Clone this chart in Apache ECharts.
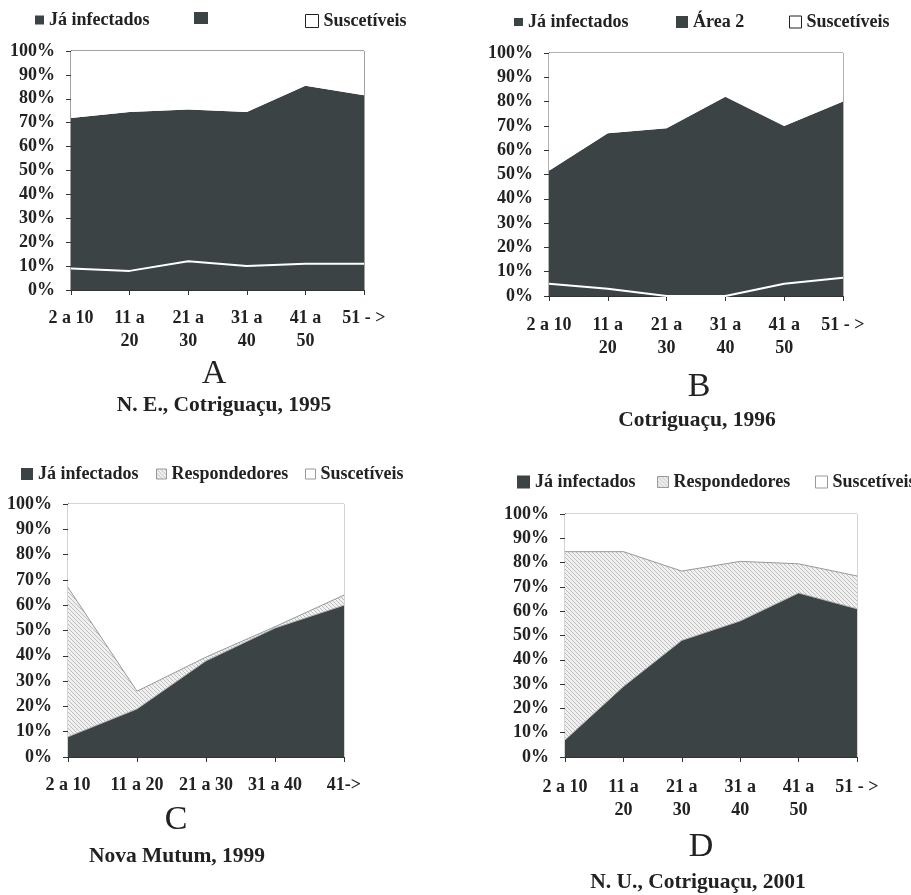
<!DOCTYPE html>
<html><head><meta charset="utf-8">
<script src="https://cdn.jsdelivr.net/npm/echarts@6/dist/echarts.min.js"></script>
<style>html,body{margin:0;padding:0;background:#fff}#c{width:911px;height:895px}</style>
</head><body><div id="c"></div>
<script>
// ---- data ----
const catsA = ['2 a 10', '11 a\n20', '21 a\n30', '31 a\n40', '41 a\n50', '51 - >'];
const catsB = ['2 a 10', '11 a\n20', '21 a\n30', '31 a\n40', '41 a\n50', '51 - >'];
const catsC = ['2 a 10', '11 a 20', '21 a 30', '31 a 40', '41->'];
const catsD = ['2 a 10', '11 a\n20', '21 a\n30', '31 a\n40', '41 a\n50', '51 - >'];

const aInfectados  = [9, 8, 12, 10, 11, 11];
const aArea2       = [63, 66.5, 63.5, 64.5, 74.5, 70.5];
const aSuscetiveis = [28, 25.5, 24.5, 25.5, 14.5, 18.5];

const bInfectados  = [5, 3, 0, 0, 5, 7.5];
const bArea2       = [46.5, 64, 69, 82, 65, 72.5];
const bSuscetiveis = [48.5, 33, 31, 18, 30, 20];

const cInfectados    = [8, 19, 38, 51, 60];
const cRespondedores = [59, 7, 1.5, 0.5, 4];
const cSuscetiveis   = [33, 74, 60.5, 48.5, 36];

const dInfectados    = [7, 29, 48, 56, 67.5, 61];
const dRespondedores = [77.5, 55.5, 28.5, 24.5, 12, 13.5];
const dSuscetiveis   = [15.5, 15.5, 23.5, 19.5, 20.5, 25.5];

const yMin = 0, yMax = 100, yStep = 10;

// ---- styles ----
const DARK = '#3c4345';
const FONT = '"Liberation Serif", "Times New Roman", serif';

function hatchCanvas() {
  const c = document.createElement('canvas');
  c.width = 4; c.height = 4;
  const g = c.getContext('2d');
  g.fillStyle = '#f1f1f1'; g.fillRect(0, 0, 4, 4);
  g.strokeStyle = '#bdbdbd'; g.lineWidth = 1;
  g.beginPath();
  g.moveTo(-1, -1); g.lineTo(5, 5);
  g.moveTo(-1, 3); g.lineTo(1, 5);
  g.moveTo(3, -1); g.lineTo(5, 1);
  g.stroke();
  return c;
}
const HATCH = { image: hatchCanvas(), repeat: 'repeat' };

const grids = [
  { left: 71,  top: 51,  width: 293, height: 239, borderColor: '#444' },
  { left: 549, top: 53,  width: 294, height: 243, borderColor: '#666' },
  { left: 68,  top: 504, width: 276, height: 253, borderColor: '#a8a8a8' },
  { left: 565, top: 514, width: 292, height: 243, borderColor: '#a8a8a8' }
].map(g => Object.assign({ show: true, borderWidth: 1, backgroundColor: 'transparent', outerBoundsMode: 'none', containLabel: false }, g));

const labelText = { fontFamily: FONT, fontWeight: 'bold', fontSize: 18, color: '#222' };

function xAx(gi, cats, margin) {
  return {
    type: 'category', gridIndex: gi, data: cats, boundaryGap: false,
    axisLine: { show: true, lineStyle: { color: '#333', width: 1 } },
    axisTick: { show: true, length: 5, interval: 0, lineStyle: { color: '#333' } },
    axisLabel: Object.assign({ interval: 0, margin: margin, lineHeight: 23 }, labelText),
    splitLine: { show: false }
  };
}
function yAx(gi) {
  return {
    type: 'value', gridIndex: gi, min: yMin, max: yMax, interval: yStep,
    axisLine: { show: true, lineStyle: { color: '#333', width: 1 } },
    axisTick: { show: true, length: 5, lineStyle: { color: '#333' } },
    axisLabel: Object.assign({ formatter: '{value}%', margin: 16 }, labelText),
    splitLine: { show: false }
  };
}
function area(name, data, gi, fill, line, z) {
  return {
    type: 'line', name: name, data: data, xAxisIndex: gi, yAxisIndex: gi,
    stack: 'p' + gi, symbol: 'none', showSymbol: false, silent: true, z: z || 2,
    areaStyle: { color: fill, opacity: 1 },
    lineStyle: line || { width: 0 },
    emphasis: { disabled: true }, animation: false
  };
}
function leg(name, left, cy, w, h, itemStyle) {
  return {
    show: true, selectedMode: false, left: left, top: cy - 10, padding: 0,
    itemWidth: w, itemHeight: h, itemGap: 0, icon: 'rect',
    formatter: n => n.split('|')[1],
    textStyle: Object.assign({ padding: 0 }, labelText),
    data: [{ name: name, icon: 'rect', itemStyle: itemStyle }]
  };
}
const darkIcon = { color: DARK, borderWidth: 0 };
const whiteBlack = { color: '#fff', borderColor: '#222', borderWidth: 1 };
const whiteGray = { color: '#fff', borderColor: '#999', borderWidth: 1 };
const hatchIcon = { color: HATCH, borderColor: '#999', borderWidth: 1 };

function txt(t, x, y, size, weight) {
  return { type: 'text', x: x, y: y, silent: true,
    style: { text: t, font: weight + ' ' + size + 'px ' + FONT, fill: '#222', align: 'center', verticalAlign: 'middle' } };
}

const option = {
  animation: false,
  backgroundColor: '#fff',
  grid: grids,
  xAxis: [xAx(0, catsA, 17), xAx(1, catsB, 18), xAx(2, catsC, 17), xAx(3, catsD, 19)],
  yAxis: [yAx(0), yAx(1), yAx(2), yAx(3)],
  legend: [
    leg('A|Já infectados', 35, 21, 9, 9, darkIcon),
    leg('A|', 194, 22, 14, 12, darkIcon),
    leg('A|Suscetíveis', 305, 22, 13, 13, whiteBlack),
    leg('B|Já infectados', 514, 23, 9, 8, darkIcon),
    leg('B|Área 2', 676, 23, 12, 12, darkIcon),
    leg('B|Suscetíveis', 789, 23, 12, 12, whiteBlack),
    leg('C|Já infectados', 21, 475, 12, 12, darkIcon),
    leg('C|Respondedores', 156, 475, 10, 10, hatchIcon),
    leg('C|Suscetíveis', 305, 475, 10, 10, whiteGray),
    leg('D|Já infectados', 517, 483, 13, 13, darkIcon),
    leg('D|Respondedores', 657, 483, 11, 11, hatchIcon),
    leg('D|Suscetíveis', 815, 483, 12, 12, whiteGray)
  ],
  series: [
    area('A|Já infectados', aInfectados, 0, DARK, { color: '#fff', width: 2 }, 4),
    area('A|', aArea2, 0, DARK, { width: 0 }, 2),
    area('A|Suscetíveis', aSuscetiveis, 0, '#fff', { width: 0 }, 2),

    area('B|Já infectados', bInfectados, 1, DARK, { color: '#fff', width: 2 }, 4),
    area('B|Área 2', bArea2, 1, DARK, { width: 0 }, 2),
    area('B|Suscetíveis', bSuscetiveis, 1, '#fff', { width: 0 }, 2),

    area('C|Já infectados', cInfectados, 2, DARK, { color: '#b5b5b5', width: 1 }, 4),
    area('C|Respondedores', cRespondedores, 2, HATCH, { color: '#999', width: 1 }, 3),
    area('C|Suscetíveis', cSuscetiveis, 2, '#fff', { width: 0 }, 2),

    area('D|Já infectados', dInfectados, 3, DARK, { color: '#b5b5b5', width: 1 }, 4),
    area('D|Respondedores', dRespondedores, 3, HATCH, { color: '#999', width: 1 }, 3),
    area('D|Suscetíveis', dSuscetiveis, 3, '#fff', { width: 0 }, 2)
  ],
  graphic: [
    txt('A', 214, 374, 34, 'normal'),
    txt('N. E., Cotriguaçu, 1995', 224, 405, 21.5, 'bold'),
    txt('B', 699, 387, 34, 'normal'),
    txt('Cotriguaçu, 1996', 697, 420, 21.5, 'bold'),
    txt('C', 176, 820, 34, 'normal'),
    txt('Nova Mutum, 1999', 177, 856, 21.5, 'bold'),
    txt('D', 701, 847, 34, 'normal'),
    txt('N. U., Cotriguaçu, 2001', 698, 882, 21.5, 'bold')
  ]
};
const chart = echarts.init(document.getElementById('c'), null, { renderer: 'canvas' });
chart.setOption(option);
</script>
</body></html>
